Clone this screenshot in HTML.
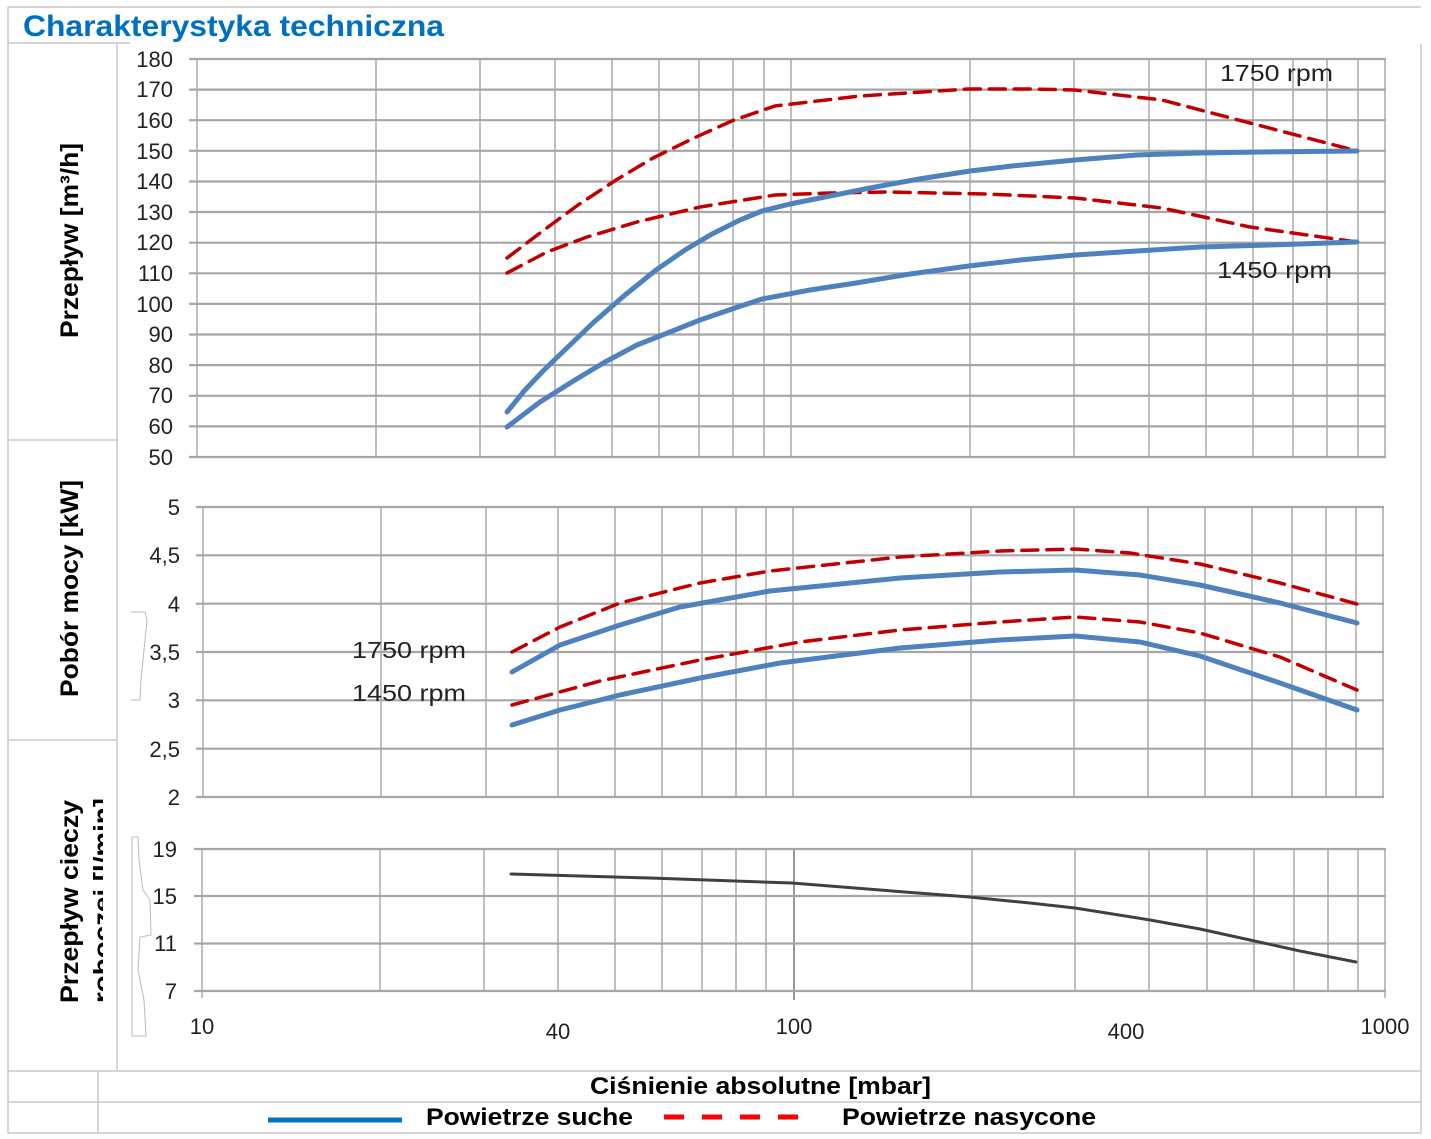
<!DOCTYPE html>
<html><head><meta charset="utf-8"><style>
html,body{margin:0;padding:0;background:#fff}
svg{display:block}
text{font-family:"Liberation Sans",sans-serif}
</style></head><body>
<svg width="1431" height="1139" viewBox="0 0 1431 1139" xmlns="http://www.w3.org/2000/svg">
<defs><clipPath id="cl"><rect x="40" y="798" width="63" height="210"/></clipPath></defs>
<!-- frame -->
<g stroke="#c8c8c8" stroke-width="1.5" fill="none">
<line x1="8" y1="7" x2="1421" y2="7"/>
<line x1="8" y1="7" x2="8" y2="1133"/>
<line x1="1421" y1="44" x2="1421" y2="1133"/>
<line x1="8" y1="43" x2="130" y2="43"/>
<line x1="117" y1="43" x2="117" y2="1070"/>
<line x1="8" y1="440" x2="117" y2="440"/>
<line x1="8" y1="740" x2="117" y2="740"/>
<line x1="8" y1="1071" x2="1421" y2="1071"/>
<line x1="8" y1="1102" x2="1421" y2="1102"/>
<line x1="8" y1="1133" x2="1421" y2="1133"/>
<line x1="98" y1="1071" x2="98" y2="1133"/>
<polyline points="131,612 145,612 147,620 144,650 141,680 140,700 131,700" stroke="#bbb" stroke-width="1"/>
<polyline points="132,837 138,837 139,860 143,890 150,900 151,935 140,937 138,970 144,1000 146,1036 132,1036 132,837" stroke="#bbb" stroke-width="1"/>
</g>
<text x="23" y="36" font-size="30" font-weight="bold" fill="#0070c0" textLength="421" lengthAdjust="spacingAndGlyphs">Charakterystyka techniczna</text>

<!-- TOP chart -->
<g stroke="#bfbfbf" stroke-width="2">
<line x1="197" y1="59" x2="197" y2="457"/>
<line x1="376" y1="59" x2="376" y2="457"/><line x1="480" y1="59" x2="480" y2="457"/><line x1="555" y1="59" x2="555" y2="457"/><line x1="612" y1="59" x2="612" y2="457"/><line x1="659" y1="59" x2="659" y2="457"/><line x1="699" y1="59" x2="699" y2="457"/><line x1="733" y1="59" x2="733" y2="457"/><line x1="764" y1="59" x2="764" y2="457"/><line x1="791" y1="59" x2="791" y2="457"/>
<line x1="970" y1="59" x2="970" y2="457"/><line x1="1074" y1="59" x2="1074" y2="457"/><line x1="1149" y1="59" x2="1149" y2="457"/><line x1="1206" y1="59" x2="1206" y2="457"/><line x1="1253" y1="59" x2="1253" y2="457"/><line x1="1293" y1="59" x2="1293" y2="457"/><line x1="1327" y1="59" x2="1327" y2="457"/><line x1="1358" y1="59" x2="1358" y2="457"/><line x1="1385" y1="59" x2="1385" y2="457"/>
</g>
<g stroke="#a6a6a6" stroke-width="2.2">
<line x1="189" y1="59" x2="1386" y2="59"/><line x1="189" y1="89.6" x2="1386" y2="89.6"/><line x1="189" y1="120.2" x2="1386" y2="120.2"/><line x1="189" y1="150.8" x2="1386" y2="150.8"/><line x1="189" y1="181.5" x2="1386" y2="181.5"/><line x1="189" y1="212" x2="1386" y2="212"/><line x1="189" y1="242.7" x2="1386" y2="242.7"/><line x1="189" y1="273.3" x2="1386" y2="273.3"/><line x1="189" y1="303.9" x2="1386" y2="303.9"/><line x1="189" y1="334.5" x2="1386" y2="334.5"/><line x1="189" y1="365.1" x2="1386" y2="365.1"/><line x1="189" y1="395.8" x2="1386" y2="395.8"/><line x1="189" y1="426.4" x2="1386" y2="426.4"/><line x1="189" y1="457" x2="1386" y2="457"/>
</g>
<g font-size="22" fill="#222" text-anchor="end">
<text x="173" y="67">180</text><text x="173" y="97">170</text><text x="173" y="128">160</text><text x="173" y="159">150</text><text x="173" y="189">140</text><text x="173" y="220">130</text><text x="173" y="250">120</text><text x="173" y="281">110</text><text x="173" y="312">100</text><text x="173" y="342">90</text><text x="173" y="373">80</text><text x="173" y="403">70</text><text x="173" y="434">60</text><text x="173" y="465">50</text>
</g>
<g fill="none" stroke-linecap="round" stroke-linejoin="round">
<polyline stroke="#c00000" stroke-width="3.5" stroke-dasharray="16 9" points="507,258 544,230 578,205 616,180 653,158 694,138 734,120 775,106 860,96 969,89 1030,89 1075,90 1162,100 1250,123 1357,151"/>
<polyline stroke="#c00000" stroke-width="3.5" stroke-dasharray="16 9" points="507,273 547,252 587,237 637,222 700,207 775,195 830,193 887,192 987,194 1075,198 1162,208 1250,227 1357,242"/>
<polyline stroke="#4f81bd" stroke-width="5" points="507,412 525,390 544,370 570,345 594,322 625,295 656,270 685,250 712,234 740,220 762,211 790,204 825,197 870,188 919,179 970,171 1012,166 1075,160 1137,155 1200,153 1262,152 1357,151"/>
<polyline stroke="#4f81bd" stroke-width="5" points="507,427 540,402 575,380 605,362 637,345 670,332 700,320 735,308 762,299 810,290 856,283 910,274 969,266 1020,260 1075,255 1137,251 1200,247 1270,245 1357,242"/>
</g>
<g font-size="23" fill="#222">
<text x="1220" y="81" textLength="113" lengthAdjust="spacingAndGlyphs">1750 rpm</text>
<text x="1217" y="278" textLength="115" lengthAdjust="spacingAndGlyphs">1450 rpm</text>
</g>

<!-- MIDDLE chart -->
<g stroke="#bfbfbf" stroke-width="2">
<line x1="203" y1="507" x2="203" y2="797"/>
<line x1="381" y1="507" x2="381" y2="797"/><line x1="486" y1="507" x2="486" y2="797"/><line x1="558" y1="507" x2="558" y2="797"/><line x1="615" y1="507" x2="615" y2="797"/><line x1="662" y1="507" x2="662" y2="797"/><line x1="702" y1="507" x2="702" y2="797"/><line x1="736" y1="507" x2="736" y2="797"/><line x1="766" y1="507" x2="766" y2="797"/><line x1="793" y1="507" x2="793" y2="797"/>
<line x1="971" y1="507" x2="971" y2="797"/><line x1="1074" y1="507" x2="1074" y2="797"/><line x1="1148" y1="507" x2="1148" y2="797"/><line x1="1205" y1="507" x2="1205" y2="797"/><line x1="1252" y1="507" x2="1252" y2="797"/><line x1="1292" y1="507" x2="1292" y2="797"/><line x1="1326" y1="507" x2="1326" y2="797"/><line x1="1356" y1="507" x2="1356" y2="797"/><line x1="1383" y1="507" x2="1383" y2="797"/>
</g>
<g stroke="#a6a6a6" stroke-width="2.2">
<line x1="196" y1="507" x2="1384" y2="507"/><line x1="196" y1="555.3" x2="1384" y2="555.3"/><line x1="196" y1="603.7" x2="1384" y2="603.7"/><line x1="196" y1="652" x2="1384" y2="652"/><line x1="196" y1="700.3" x2="1384" y2="700.3"/><line x1="196" y1="748.7" x2="1384" y2="748.7"/><line x1="196" y1="797" x2="1384" y2="797"/>
</g>
<g font-size="22" fill="#222" text-anchor="end">
<text x="180" y="515">5</text><text x="180" y="563">4,5</text><text x="180" y="612">4</text><text x="180" y="660">3,5</text><text x="180" y="708">3</text><text x="180" y="757">2,5</text><text x="180" y="805">2</text>
</g>
<g fill="none" stroke-linecap="round" stroke-linejoin="round">
<polyline stroke="#c00000" stroke-width="3.5" stroke-dasharray="16 9" points="512,652 560,627 620,603 700,583 770,571 900,557 1000,551 1075,549 1130,553 1200,564 1280,583 1357,604"/>
<polyline stroke="#4f81bd" stroke-width="5" points="512,672 560,645 620,625 680,607 770,591 900,578 1000,572 1075,570 1140,575 1200,585 1280,603 1357,623"/>
<polyline stroke="#c00000" stroke-width="3.5" stroke-dasharray="16 9" points="512,705 600,681 700,660 800,642 900,630 1000,622 1075,617 1140,622 1200,633 1280,657 1357,690"/>
<polyline stroke="#4f81bd" stroke-width="5" points="512,725 560,710 620,695 700,678 780,663 900,648 1000,640 1075,636 1140,642 1200,656 1280,683 1357,710"/>
</g>
<g font-size="23" fill="#222">
<text x="352" y="658" textLength="114" lengthAdjust="spacingAndGlyphs">1750 rpm</text>
<text x="352" y="701" textLength="114" lengthAdjust="spacingAndGlyphs">1450 rpm</text>
</g>

<!-- BOTTOM chart -->
<g stroke="#bfbfbf" stroke-width="2">
<line x1="202" y1="849" x2="202" y2="998"/>
<line x1="380" y1="849" x2="380" y2="991"/><line x1="484" y1="849" x2="484" y2="991"/><line x1="558" y1="849" x2="558" y2="991"/><line x1="615" y1="849" x2="615" y2="991"/><line x1="662" y1="849" x2="662" y2="991"/><line x1="702" y1="849" x2="702" y2="991"/><line x1="736" y1="849" x2="736" y2="991"/><line x1="766" y1="849" x2="766" y2="991"/>
<line x1="972" y1="849" x2="972" y2="991"/><line x1="1075" y1="849" x2="1075" y2="991"/><line x1="1149" y1="849" x2="1149" y2="991"/><line x1="1207" y1="849" x2="1207" y2="991"/><line x1="1254" y1="849" x2="1254" y2="991"/><line x1="1294" y1="849" x2="1294" y2="991"/><line x1="1328" y1="849" x2="1328" y2="991"/><line x1="1358" y1="849" x2="1358" y2="991"/><line x1="1385" y1="849" x2="1385" y2="998"/>
</g>
<line x1="794" y1="849" x2="794" y2="1000" stroke="#777" stroke-width="1.5"/>
<g stroke="#a6a6a6" stroke-width="2.2">
<line x1="194" y1="849" x2="1386" y2="849"/><line x1="194" y1="896" x2="1386" y2="896"/><line x1="194" y1="943.5" x2="1386" y2="943.5"/><line x1="194" y1="991" x2="1386" y2="991"/>
</g>
<g font-size="22" fill="#222" text-anchor="end">
<text x="177" y="857">19</text><text x="177" y="904">15</text><text x="177" y="951">11</text><text x="177" y="999">7</text>
</g>
<polyline fill="none" stroke="#404040" stroke-width="3" stroke-linecap="round" points="511,874 650,878 792,883 880,890 969,897 1030,903 1075,908 1150,920 1200,929 1250,940 1300,951 1356,962"/>
<g font-size="22" fill="#222" text-anchor="middle">
<text x="202" y="1034">10</text><text x="558" y="1039">40</text><text x="794" y="1034">100</text><text x="1126" y="1039">400</text><text x="1385" y="1034">1000</text>
</g>

<!-- axis titles -->
<g font-size="25" font-weight="bold" fill="#000">
<text transform="translate(78,338) rotate(-90)" textLength="195" lengthAdjust="spacingAndGlyphs">Przepływ [m³/h]</text>
<text transform="translate(78,697) rotate(-90)" textLength="217" lengthAdjust="spacingAndGlyphs">Pobór mocy [kW]</text>
<text transform="translate(78,1003) rotate(-90)" textLength="203" lengthAdjust="spacingAndGlyphs">Przepływ cieczy</text>
<g clip-path="url(#cl)"><text transform="translate(111,1003) rotate(-90)" textLength="205" lengthAdjust="spacingAndGlyphs">roboczej [l/min]</text></g>
</g>

<!-- bottom labels & legend -->
<g font-size="24" font-weight="bold" fill="#000">
<text x="590" y="1094" textLength="341" lengthAdjust="spacingAndGlyphs">Ciśnienie absolutne [mbar]</text>
<text x="426" y="1125" textLength="207" lengthAdjust="spacingAndGlyphs">Powietrze suche</text>
<text x="842" y="1125" textLength="254" lengthAdjust="spacingAndGlyphs">Powietrze nasycone</text>
</g>
<line x1="268" y1="1120" x2="402" y2="1120" stroke="#0070c0" stroke-width="5"/>
<line x1="664" y1="1117" x2="798" y2="1117" stroke="#ff0000" stroke-width="5" stroke-dasharray="20 18"/>
</svg>
</body></html>
